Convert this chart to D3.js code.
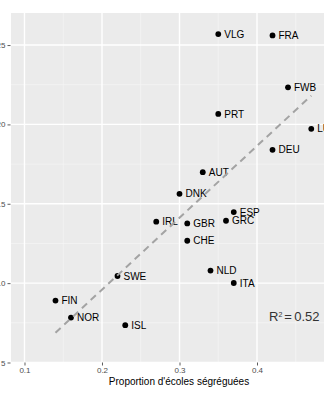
<!DOCTYPE html>
<html>
<head>
<meta charset="utf-8">
<script src="https://cdn.jsdelivr.net/npm/d3@7"></script>
<style>
	body { margin: 0; background: #fff; }
	svg { display: block; }
</style>
</head>
<body>
<svg id="chart" width="324" height="400"></svg>
<script>
// data
var countries = ["VLG", "FRA", "FWB", "PRT", "LUX", "DEU", "AUT", "DNK", "ESP", "IRL", "GRC", "GBR", "CHE", "NLD", "ITA", "SWE", "FIN", "NOR", "ISL"];
var segregation = [0.35, 0.42, 0.44, 0.35, 0.47, 0.42, 0.33, 0.30, 0.37, 0.27, 0.36, 0.31, 0.31, 0.34, 0.37, 0.22, 0.14, 0.16, 0.23];
var scores = [25.69, 25.61, 22.34, 20.66, 19.72, 18.40, 16.99, 15.63, 14.48, 13.87, 13.93, 13.76, 12.67, 10.79, 10.01, 10.45, 8.90, 7.83, 7.35];
var xTicks = [0.1, 0.2, 0.3, 0.4];
var xMinor = [0.15, 0.25, 0.35, 0.45];
var yTicks = [5, 10, 15, 20, 25];
var yMinor = [7.5, 12.5, 17.5, 22.5];
var xTitle = "Proportion d'écoles ségréguées";

var panelLeft = 11, panelRight = 347, panelTop = 13, panelBottom = 362.5;

var svg = d3.select("#chart");

var x = d3.scaleLinear().domain([0.0826, 0.5161]).range([panelLeft, panelRight]);
var y = d3.scaleLinear().domain([5, 27.02]).range([panelBottom, panelTop]);

var points = countries.map(function (c, i) {
	return { name: c, x: segregation[i], y: scores[i] };
});

// least squares fit, like geom_smooth(method = "lm")
var mx = d3.mean(points, function (d) { return d.x; });
var my = d3.mean(points, function (d) { return d.y; });
var sxy = d3.sum(points, function (d) { return (d.x - mx) * (d.y - my); });
var sxx = d3.sum(points, function (d) { return (d.x - mx) * (d.x - mx); });
var syy = d3.sum(points, function (d) { return (d.y - my) * (d.y - my); });
var slope = sxy / sxx;
var intercept = my - slope * mx;
var r2 = (sxy * sxy) / (sxx * syy);
var xExtent = d3.extent(points, function (d) { return d.x; });
var fit = xExtent.map(function (v) { return { x: v, y: intercept + slope * v }; });

// Background panel
svg.append("rect")
	.attr("x", panelLeft)
	.attr("y", panelTop)
	.attr("width", panelRight - panelLeft)
	.attr("height", panelBottom - panelTop)
	.attr("fill", "#ebebeb");

var grid = svg.append("g");
grid.selectAll("line.vminor").data(xMinor).enter().append("line")
	.attr("x1", function (d) { return x(d); })
	.attr("x2", function (d) { return x(d); })
	.attr("y1", panelTop).attr("y2", panelBottom)
	.attr("stroke", "#f7f7f7").attr("stroke-width", 0.7);
grid.selectAll("line.hminor").data(yMinor).enter().append("line")
	.attr("y1", function (d) { return y(d); })
	.attr("y2", function (d) { return y(d); })
	.attr("x1", panelLeft).attr("x2", panelRight)
	.attr("stroke", "#f7f7f7").attr("stroke-width", 0.7);
grid.selectAll("line.vmajor").data(xTicks).enter().append("line")
	.attr("x1", function (d) { return x(d); })
	.attr("x2", function (d) { return x(d); })
	.attr("y1", panelTop).attr("y2", panelBottom)
	.attr("stroke", "#fff").attr("stroke-width", 1.4);
grid.selectAll("line.hmajor").data(yTicks).enter().append("line")
	.attr("y1", function (d) { return y(d); })
	.attr("y2", function (d) { return y(d); })
	.attr("x1", panelLeft).attr("x2", panelRight)
	.attr("stroke", "#fff").attr("stroke-width", 1.4);

// Axes
var xAxis = d3.axisBottom(x).tickValues(xTicks).tickSize(3).tickPadding(2).tickFormat(d3.format(".1f"));
var yAxis = d3.axisLeft(y).tickValues(yTicks).tickSize(3).tickPadding(2);

svg.append("g")
	.attr("transform", "translate(0," + panelBottom + ")")
	.call(xAxis)
	.call(styleAxis);
svg.append("g")
	.attr("transform", "translate(" + (panelLeft - 0.5) + ",0)")
	.call(yAxis)
	.call(styleAxis);

function styleAxis(g) {
	g.select(".domain").remove();
	g.selectAll(".tick line").attr("stroke", "#333").attr("stroke-width", 0.8);
	g.selectAll(".tick text")
		.attr("fill", "#4d4d4d")
		.style("font-family", "'Liberation Sans', Arial, sans-serif")
		.style("font-size", "8px");
}

svg.append("text")
	.attr("x", (panelLeft + panelRight) / 2)
	.attr("y", 385)
	.attr("text-anchor", "middle")
	.style("font-family", "'Liberation Sans', Arial, sans-serif")
	.style("font-size", "10px")
	.attr("fill", "#000")
	.text(xTitle);

// Points and labels
svg.selectAll("circle.pt").data(points).enter().append("circle")
	.attr("class", "pt")
	.attr("cx", function (d) { return x(d.x); })
	.attr("cy", function (d) { return y(d.y); })
	.attr("r", 2.9)
	.attr("fill", "#000");

svg.selectAll("text.lbl").data(points).enter().append("text")
	.attr("class", "lbl")
	.attr("x", function (d) { return x(d.x) + 6; })
	.attr("y", function (d) { return y(d.y); })
	.attr("dy", "0.36em")
	.style("font-family", "'Liberation Sans', Arial, sans-serif")
	.style("font-size", "10px")
	.attr("fill", "#000")
	.text(function (d) { return d.name; });

// Regression line
svg.append("path")
	.datum(fit)
	.attr("d", d3.line().x(function (d) { return x(d.x); }).y(function (d) { return y(d.y); }))
	.attr("fill", "none")
	.attr("stroke", "#a3a3a3")
	.attr("stroke-width", 2)
	.attr("stroke-dasharray", "7,5");

// R squared annotation
var note = svg.append("text")
	.attr("x", 269)
	.attr("y", 320.5)
	.style("font-family", "'Liberation Sans', Arial, sans-serif")
	.style("font-size", "13px")
	.attr("fill", "#333");
note.append("tspan").text("R");
note.append("tspan").attr("dy", -4).style("font-size", "7px").text("2");
note.append("tspan").attr("dy", 4).attr("dx", 2).text("=");
note.append("tspan").attr("dx", 2.4).text(d3.format(".2f")(r2));
</script>
</body>
</html>
